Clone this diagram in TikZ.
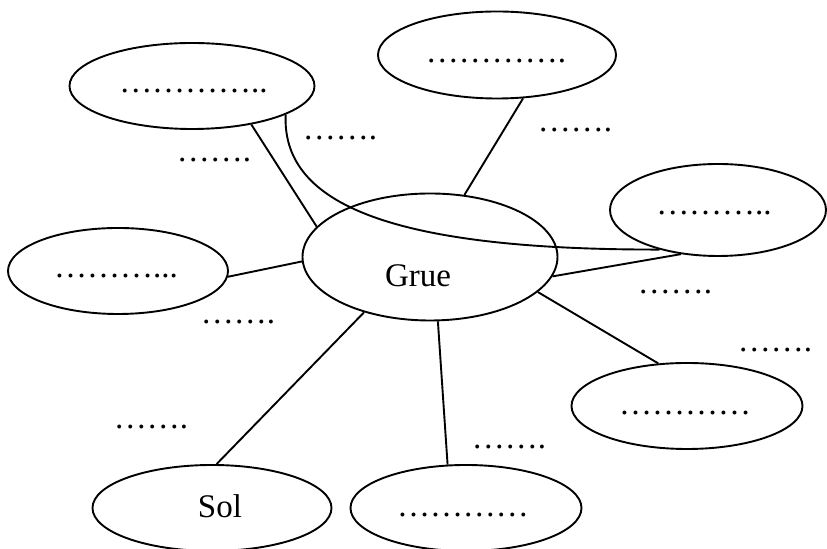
\documentclass[tikz,border=0pt]{standalone}
\usepackage{fontspec}
\setmainfont{Liberation Serif}
\usetikzlibrary{shapes.geometric}
\begin{document}
\begin{tikzpicture}[x=0.5pt,y=-0.5pt,
  oval/.style={draw, ellipse, line width=0.95pt, inner sep=0pt},
  conn/.style={line width=0.95pt},
  txt/.style={inner sep=0pt, font=\fontsize{16.5}{20}\selectfont}]
\useasboundingbox (0,0) rectangle (827,549);
% ellipses
\node[oval, minimum width=122.5pt, minimum height=43pt] (tl) at (192,86) {};
\node[oval, minimum width=119pt, minimum height=43.5pt] (tm) at (497,55) {};
\node[oval, minimum width=108pt, minimum height=46pt] (r) at (718,210) {};
\node[oval, minimum width=110pt, minimum height=43pt] (l) at (118,271) {};
\node[oval, minimum width=127.5pt, minimum height=63.5pt] (g) at (430,257) {};
\node[oval, minimum width=115.5pt, minimum height=43pt] (br) at (687,406) {};
\node[oval, minimum width=115.5pt, minimum height=43pt] (bm) at (466,508) {};
\node[oval, minimum width=119.5pt, minimum height=43pt] (sol) at (212,508) {};
% texts in ellipses
\node[txt] (tltext) at (193.5,91) {…………..};
\node[txt] (tmtext) at (496,61) {………….};
\node[txt] (rtext) at (714,213) {………..};
\node[txt] (ltext) at (116,276) {………...};
\node[txt] (gtext) at (418,276) {Grue};
\node[txt] (brtext) at (685,413) {…………};
\node[txt] (bmtext) at (463,515) {…………};
\node[txt] (soltext) at (220,506) {Sol};
% connectors
\draw[conn] (tl.-33.5) -- (g.165.7);
\draw[conn] (tm.-59.8) -- (g.61.6);
\draw[conn] (r.230) -- (g.-9.5);
\draw[conn] (l.-3.2) -- (g.182.7);
\draw[conn] (g.220.8) -- (sol.84.8);
\draw[conn] (g.-83.8) -- (bm.113.8);
\draw[conn] (g.-18) -- (br.124);
\draw[conn] (tl.-17.5) .. controls (282,200) and (380,250) .. (r.214);
% free labels
\node[txt] (a1) at (214,160) {…….};
\node[txt] (a2) at (340,138) {…….};
\node[txt] (a3) at (575,130) {…….};
\node[txt] (a4) at (238,322) {…….};
\node[txt] (a5) at (151,427) {…….};
\node[txt] (a6) at (675,292) {…….};
\node[txt] (a7) at (775,350) {…….};
\node[txt] (a8) at (509,447) {…….};
\end{tikzpicture}
\end{document}
